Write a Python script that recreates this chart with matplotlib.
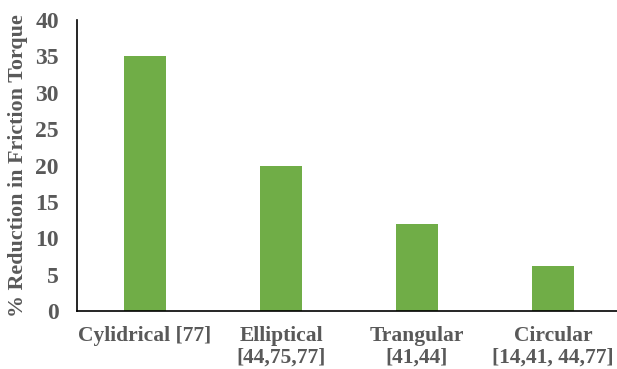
import matplotlib.pyplot as plt
import numpy as np

categories = ['Cylidrical [77]', 'Elliptical\n[44,75,77]', 'Trangular\n[41,44]', 'Circular\n[14,41, 44,77]']
reduction = [35, 20, 12, 6.2]
yticks = [0, 5, 10, 15, 20, 25, 30, 35, 40]

plt.rcParams['font.family'] = 'Liberation Serif'
plt.rcParams['font.weight'] = 'bold'
grey = '#595959'

fig = plt.figure(figsize=(6.17, 3.69), dpi=100)
ax = fig.add_axes([77/617, 58/369, 544/617, 291/369])

x = np.arange(len(categories))
ax.bar(x, reduction, width=0.31, color='#70AD47')

ax.set_xlim(-0.5, len(categories) - 0.5)
ax.set_ylim(0, 40)
ax.set_yticks(yticks)
ax.set_xticks(x)
ax.set_xticklabels(categories, fontsize=15.5, color=grey, fontweight='bold', linespacing=1.1)
ax.tick_params(axis='y', length=0, labelsize=17, labelcolor=grey, pad=13)
ax.tick_params(axis='x', length=0, pad=11)
for lbl in ax.get_yticklabels():
    lbl.set_fontweight('bold')
ax.set_ylabel('% Reduction in Friction Torque', fontsize=15.8, color=grey, fontweight='bold', labelpad=5)

ax.spines['top'].set_visible(False)
ax.spines['right'].set_visible(False)
ax.spines['left'].set_color('black')
ax.spines['bottom'].set_color('black')
ax.spines['left'].set_linewidth(1.2)
ax.spines['bottom'].set_linewidth(1.2)

fig.savefig('out.png', dpi=100)
